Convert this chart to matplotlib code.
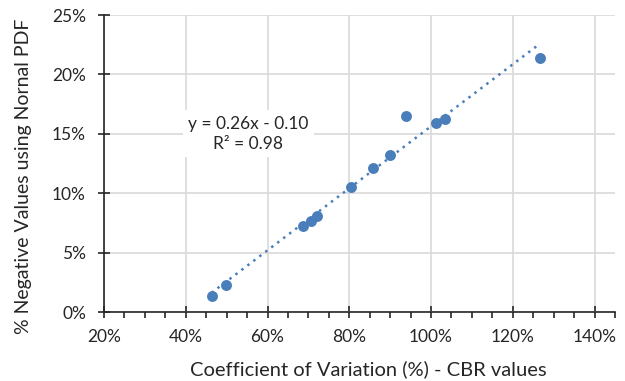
import numpy as np
import matplotlib
matplotlib.use("Agg")
import matplotlib.pyplot as plt
from matplotlib.ticker import PercentFormatter, MultipleLocator

plt.rcParams['font.family'] = ['Lato', 'DejaVu Sans']

# DATA =========================================================================
cov_cbr = [0.463, 0.499, 0.688, 0.707, 0.720, 0.804, 0.858, 0.899, 0.939,
           1.011, 1.033, 1.267]
neg_pdf = [0.0135, 0.0227, 0.0724, 0.0766, 0.0810, 0.1055, 0.1210, 0.1319,
           0.1652, 0.1588, 0.1624, 0.2140]
x_ticks = [0.2, 0.4, 0.6, 0.8, 1.0, 1.2, 1.4]
y_ticks = [0.0, 0.05, 0.10, 0.15, 0.20, 0.25]

colour = '#4a7ebb'
ink = '#262626'

# PLOT =========================================================================
fig = plt.figure(figsize=(6.25, 3.81), dpi=100)
ax = fig.add_axes([0.1664, 0.181, 0.8176, 0.7796])

ax.scatter(cov_cbr, neg_pdf, s=62, color=colour, zorder=3, linewidths=0)

# linear trendline
slope, intercept = np.polyfit(cov_cbr, neg_pdf, 1)
fit_x = np.array([min(cov_cbr), max(cov_cbr)])
ax.plot(fit_x, slope * fit_x + intercept, linestyle=(0, (1, 2)),
        color=colour, linewidth=1.8, zorder=2)

ax.text(0.553, 0.150, 'y = 0.26x - 0.10\nR² = 0.98',
        ha='center', va='center', fontsize=12.5, linespacing=1.3,
        color=ink, zorder=4,
        bbox=dict(facecolor='white', edgecolor='none', pad=4))

ax.set_xlim(0.2, 1.45)
ax.set_ylim(0, 0.25)
ax.set_xticks(x_ticks)
ax.set_yticks(y_ticks)
ax.xaxis.set_minor_locator(MultipleLocator(0.05))
ax.xaxis.set_major_formatter(PercentFormatter(1.0, decimals=0))
ax.yaxis.set_major_formatter(PercentFormatter(1.0, decimals=0))

ax.grid(True, which='major', color='#d9d9d9', linewidth=1.2)
ax.set_axisbelow(True)
for side in ['top', 'right']:
    ax.spines[side].set_visible(False)
for side in ['left', 'bottom']:
    ax.spines[side].set_color(ink)
    ax.spines[side].set_linewidth(1.2)

ax.tick_params(axis='both', which='major', direction='inout', length=8,
               width=1.2, colors=ink, labelsize=12.5, labelcolor=ink)
ax.tick_params(axis='x', which='minor', direction='out', length=4,
               width=1.2, colors=ink)
ax.tick_params(axis='x', which='major', pad=8)
ax.tick_params(axis='y', which='major', pad=9)

ax.set_xlabel('Coefficient of Variation (%) - CBR values', fontsize=14.5,
              color=ink, va='center')
ax.set_ylabel('% Negative Values using Nornal PDF', fontsize=14,
              color=ink, va='center')
ax.xaxis.set_label_coords(0.5 * (188 + 548) / 511 - 104 / 511, -0.192)
ax.yaxis.set_label_coords(-0.1585, 0.458)

fig.savefig('out.png', dpi=100)
